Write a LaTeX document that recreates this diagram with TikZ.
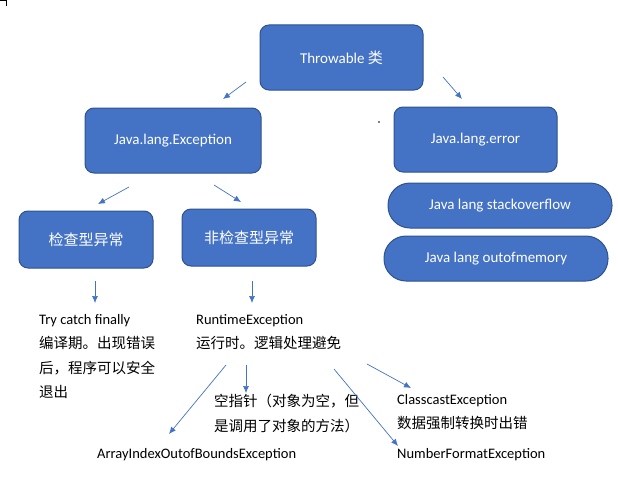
\documentclass[tikz,border=0pt]{standalone}
\usetikzlibrary{arrows.meta}
\usepackage{fontspec}
\setmainfont{Carlito}
\newfontfamily\cjk{Noto Sans CJK SC}
\definecolor{bfill}{HTML}{4472C4}
\definecolor{bdraw}{HTML}{2F528F}
\definecolor{arr}{HTML}{4472C4}
\begin{document}
\begin{tikzpicture}[x=1pt,y=-1pt,
  box/.style={draw=bdraw,line width=1pt,fill=bfill,rounded corners=9pt,text=white,font=\fontsize{15}{18}\selectfont},
  pill/.style={draw=bdraw,line width=1pt,fill=bfill,rounded corners=22pt,text=white,font=\fontsize{15}{18}\selectfont},
  lbl/.style={anchor=north west,align=left,inner sep=0pt,font=\fontsize{14.5}{24.5}\selectfont},
  ar/.style={draw=arr,line width=0.7pt,-{Latex[length=7pt,width=6pt]}}]
\useasboundingbox (0,0) rectangle (618,487);
\draw (0,0) -- (6,0) -- (6,6);
\node[box,minimum width=163pt,minimum height=65pt] (thr) at (341.5,57.5) {Throwable {\cjk 类}};
\node[box,minimum width=176pt,minimum height=65pt] (exc) at (173,140.5) {Java.lang.Exception};
\node[box,minimum width=163pt,minimum height=65pt] (err) at (475.5,139.5) {Java.lang.error};
\node[box,minimum width=134pt,minimum height=57pt] (chk) at (86,239.5) {\cjk 检查型异常};
\node[box,minimum width=134pt,minimum height=57pt] (unc) at (249,237.5) {\cjk 非检查型异常};
\node[pill,minimum width=224pt,minimum height=45pt] (so) at (500,205.5) {Java lang stackoverflow};
\node[pill,minimum width=224pt,minimum height=45pt] (oom) at (496,258.5) {Java lang outofmemory};
\fill (379,122) circle (0.9pt);
\node[lbl] (try) at (39,314) {Try catch finally\\{\cjk 编译期。出现错误}\\{\cjk 后，程序可以安全}\\{\cjk 退出}};
\node[lbl] (rt) at (196,314) {RuntimeException\\{\cjk 运行时。逻辑处理避免}};
\node[lbl] (npe) at (214,394) {{\cjk 空指针（对象为空，但}\\{\cjk 是调用了对象的方法）}};
\node[lbl] (cce) at (397,394) {ClasscastException\\{\cjk 数据强制转换时出错}};
\node[lbl] (aio) at (97,448) {ArrayIndexOutofBoundsException};
\node[lbl] (nfe) at (397,448) {NumberFormatException};
\coordinate (a1) at (246,82); \coordinate (b1) at (223,99);
\coordinate (a2) at (443,77); \coordinate (b2) at (462,99);
\coordinate (a3) at (129,187); \coordinate (b3) at (98,204);
\coordinate (a4) at (214,185); \coordinate (b4) at (241,202);
\coordinate (a5) at (95,281); \coordinate (b5) at (95,303);
\coordinate (a6) at (252,281); \coordinate (b6) at (252,303);
\coordinate (a7) at (226,365); \coordinate (b7) at (169,434);
\coordinate (a8) at (246,365); \coordinate (b8) at (246,393);
\coordinate (a9) at (334,369); \coordinate (b9) at (398,446);
\coordinate (a10) at (367,364); \coordinate (b10) at (411,388);
\foreach \i in {1,...,10} \draw[ar] (a\i) -- (b\i);
\end{tikzpicture}
\end{document}
